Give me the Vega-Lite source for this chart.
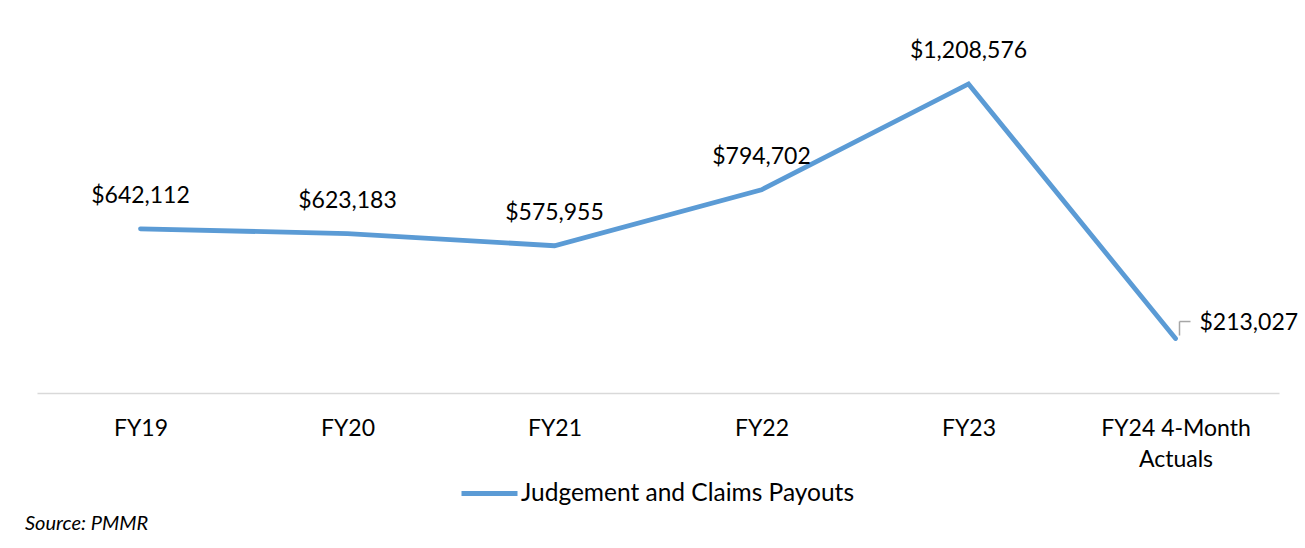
{
  "$schema": "https://vega.github.io/schema/vega-lite/v6.json",
  "width": 1242,
  "height": 358,
  "autosize": {"type": "none"},
  "padding": {"left": 37, "top": 35, "right": 26, "bottom": 155},
  "background": "white",
  "config": {"view": {"stroke": null}, "font": "Lato"},
  "title": {
    "text": "Source: PMMR",
    "orient": "bottom",
    "anchor": "start",
    "frame": "group",
    "font": "Lato",
    "fontSize": 20,
    "fontStyle": "italic",
    "fontWeight": "normal",
    "color": "#000000",
    "dx": -12,
    "offset": 9
  },
  "data": {
    "values": [
      {"year": "FY19", "payout": 642112},
      {"year": "FY20", "payout": 623183},
      {"year": "FY21", "payout": 575955},
      {"year": "FY22", "payout": 794702},
      {"year": "FY23", "payout": 1208576},
      {"year": "FY24 4-Month Actuals", "payout": 213027}
    ]
  },
  "encoding": {
    "x": {
      "field": "year",
      "type": "nominal",
      "sort": null,
      "scale": {"type": "point", "padding": 0.5},
      "axis": {
        "title": null,
        "labelAngle": 0,
        "ticks": false,
        "grid": false,
        "domainColor": "#D9D9D9",
        "domainWidth": 1.5,
        "labelFont": "Lato",
        "labelFontSize": 23,
        "labelColor": "#000000",
        "labelPadding": 24,
        "labelLineHeight": 31,
        "labelExpr": "datum.value == 'FY24 4-Month Actuals' ? ['FY24 4-Month', 'Actuals'] : datum.value"
      }
    },
    "y": {
      "field": "payout",
      "type": "quantitative",
      "scale": {"domain": [0, 1400000]},
      "axis": null
    }
  },
  "layer": [
    {
      "mark": {"type": "line", "strokeWidth": 4.8, "strokeCap": "round", "strokeJoin": "miter"},
      "encoding": {
        "color": {
          "datum": "Judgement and Claims Payouts",
          "type": "nominal",
          "scale": {"range": ["#5B9BD5"]},
          "legend": {
            "title": null,
            "orient": "none",
            "legendX": 422,
            "legendY": 428,
            "padding": 0,
            "symbolType": "stroke",
            "symbolSize": 3136,
            "symbolStrokeWidth": 5,
            "labelFont": "Lato",
            "labelFontSize": 24.5,
            "labelColor": "#000000",
            "labelOffset": 1,
            "labelLimit": 0
          }
        }
      }
    },
    {
      "transform": [{"filter": "datum.year != 'FY24 4-Month Actuals'"}],
      "mark": {"type": "text", "fontSize": 23, "font": "Lato", "color": "#000000", "baseline": "alphabetic", "dy": -26},
      "encoding": {"text": {"field": "payout", "type": "quantitative", "format": "$,.0f"}}
    },
    {
      "transform": [{"filter": "datum.year == 'FY24 4-Month Actuals'"}],
      "mark": {"type": "text", "fontSize": 23, "font": "Lato", "color": "#000000", "baseline": "alphabetic", "align": "left", "dx": 24, "dy": -9},
      "encoding": {"text": {"field": "payout", "type": "quantitative", "format": "$,.0f"}}
    },
    {
      "transform": [{"filter": "datum.year == 'FY24 4-Month Actuals'"}],
      "mark": {"type": "rule", "color": "#A6A6A6", "strokeWidth": 1.5, "xOffset": 4, "yOffset": -3, "y2Offset": -17},
      "encoding": {"y2": {"field": "payout"}}
    },
    {
      "transform": [{"filter": "datum.year == 'FY24 4-Month Actuals'"}],
      "mark": {"type": "rule", "color": "#A6A6A6", "strokeWidth": 1.5, "xOffset": 4, "x2Offset": 15, "yOffset": -17},
      "encoding": {"x2": {"field": "year"}}
    }
  ]
}
